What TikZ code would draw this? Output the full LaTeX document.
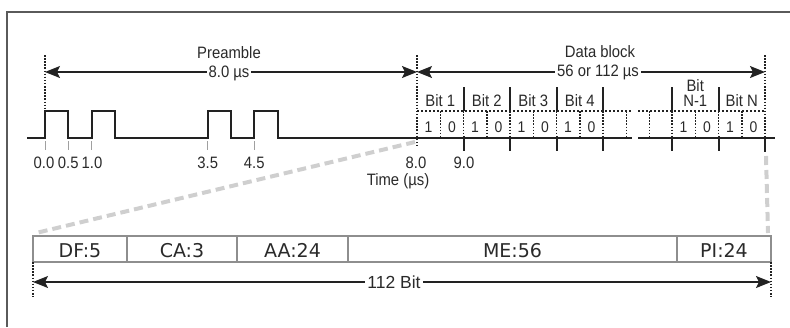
\documentclass[tikz,border=0pt]{standalone}
\usepackage{fontspec}
\newfontfamily\labfont[FakeStretch=0.9]{Liberation Sans}
\newfontfamily\plainfont{Liberation Sans}
\newfontfamily\boxfont{DejaVu Sans}
\usetikzlibrary{arrows.meta}
\definecolor{txt}{HTML}{2A2A2A}
\definecolor{ink}{HTML}{222222}
\definecolor{boxline}{HTML}{8E8E8E}
\definecolor{frame}{HTML}{5A5A5A}
\definecolor{zoomgray}{HTML}{CFCFCF}
\definecolor{tickgray}{HTML}{A0A0A0}
\begin{document}
\begin{tikzpicture}[x=1pt,y=-1pt,
  lab/.style={font=\labfont\fontsize{16.5}{18}\selectfont, text=txt, inner sep=0pt, anchor=base},
  dig/.style={font=\labfont\fontsize{15.5}{17}\selectfont, text=txt, inner sep=0pt, anchor=base},
  wave/.style={line width=2pt, draw=ink, line join=miter},
  vdot/.style={line width=1.5pt, draw=ink, dash pattern=on 1.5pt off 1.6pt},
  hdash/.style={line width=1.4pt, draw=ink, dash pattern=on 2.4pt off 1.6pt},
  bar/.style={line width=2pt, draw=ink},
  faint/.style={line width=1pt, draw=tickgray},
  dim/.style={line width=1.4pt, draw=ink, {Stealth[length=15pt,width=12pt,inset=3pt]}-{Stealth[length=15pt,width=12pt,inset=3pt]}},
  zoomline/.style={line width=4pt, draw=zoomgray, dash pattern=on 9pt off 5pt},
  cell/.style={draw=boxline, line width=1.1pt, outer sep=0pt, inner sep=2pt, minimum height=26pt,
    font=\boxfont\fontsize{19}{21}\selectfont, text=txt, text height=17pt, text depth=0pt},
]
\useasboundingbox (0,0) rectangle (790,327);
% outer frame (top and left visible)
\draw[frame, line width=1.2pt] (7,327) -- (7,12) -- (790,12);

% ---------- preamble / data block dimensions ----------
\coordinate (pa) at (45,72);
\coordinate (pb) at (417,72);
\coordinate (db) at (765,72);
\draw[vdot] (45,55) -- (45,111);
\draw[vdot] (417,55) -- (417,148);
\draw[vdot] (765,55) -- (765,140);
\draw[dim] (pa) -- (pb);
\draw[dim] (pb) -- (db);
\node[lab] (pre) at (229,58) {Preamble};
\node[lab, fill=white, inner xsep=2pt, inner ysep=1pt] (pret) at (229,77) {8.0 µs};
\node[lab] (dat) at (600,57) {Data block};
\node[lab, fill=white, inner xsep=2pt, inner ysep=1pt] (datt) at (598,76) {56 or 112 µs};

% ---------- waveform ----------
\draw[wave] (27,138) -- (45,138) -- (45,111) -- (68.25,111) -- (68.25,138) -- (91.5,138)
  -- (91.5,111) -- (114.75,111) -- (114.75,138) -- (207.75,138) -- (207.75,111) -- (231,111)
  -- (231,138) -- (254.25,138) -- (254.25,111) -- (277.5,111) -- (277.5,138) -- (632,138);
\draw[wave] (638,138) -- (775,138);

% light ticks under preamble
\foreach \x in {45,68.25,91.5,207.75,254.25} \draw[faint] (\x,141) -- (\x,150);
\node[lab] (t00) at (44,168) {0.0};
\node[lab] (t05) at (68.25,168) {0.5};
\node[lab] (t10) at (92,168) {1.0};
\node[lab] (t35) at (207.75,168) {3.5};
\node[lab] (t45) at (254.25,168) {4.5};
\node[lab] (t80) at (416,168) {8.0};
\node[lab] (t90) at (464,168) {9.0};
\node[lab] (time) at (398,185) {Time (µs)};

% ---------- data block bits ----------
\draw[hdash] (417,111) -- (632,111);
\draw[hdash] (638,111) -- (765,111);
\foreach \x in {440.25,463.5,486.75,510,533.25,556.5,579.75,603,626.25,649.5,672,695.25,718.5,741.75}
  \draw[vdot] (\x,111) -- (\x,138);
\foreach \x in {463.5,510,556.5,603,672,718.5} {
  \draw[bar] (\x,87) -- (\x,111);
  \draw[bar] (\x,136) -- (\x,151);
}
\draw[bar] (765,136) -- (765,152);
\foreach \i in {1,...,4} {
  \node[lab] (bit\i) at ({417+(\i-1)*46.5+23.25},106) {Bit \i};
  \node[dig] (one\i) at ({417+(\i-1)*46.5+11.6},132) {1};
  \node[dig] (zero\i) at ({417+(\i-1)*46.5+34.9},132) {0};
}
\node[lab] (bitna) at (695.25,91) {Bit};
\node[lab] (bitnb) at (695.25,106) {N-1};
\node[lab] (bitn) at (741.75,106) {Bit N};
\node[dig] (onea) at (683.6,132) {1};
\node[dig] (zeroa) at (706.9,132) {0};
\node[dig] (oneb) at (730.1,132) {1};
\node[dig] (zerob) at (753.4,132) {0};

% ---------- frame of 112 bits ----------
\node[cell, minimum width=94pt] (df) at (80,249) {DF:5};
\node[cell, minimum width=110pt] (ca) at (182,249) {CA:3};
\node[cell, minimum width=111pt] (aa) at (292.5,249) {AA:24};
\node[cell, minimum width=329pt] (me) at (512.5,249) {ME:56};
\node[cell, minimum width=94pt] (pi) at (724,249) {PI:24};

% zoom lines
\coordinate (z1) at (415,142);
\coordinate (z2) at (36,233);
\coordinate (z3) at (766,156);
\coordinate (z4) at (768,233);
\draw[zoomline] (z1) -- (z2);
\draw[zoomline] (z3) -- (z4);

% 112 bit dimension
\coordinate (ba) at (33,282);
\coordinate (bb) at (771,282);
\draw[vdot] (df.south west) -- (33,297);
\draw[vdot] (pi.south east) -- (771,297);
\draw[dim] (ba) -- (bb);
\node[font=\plainfont\fontsize{17.5}{19}\selectfont, text=txt, fill=white, inner xsep=2pt, inner ysep=1pt, anchor=base] (bits) at (394,288) {112 Bit};
\end{tikzpicture}
\end{document}
